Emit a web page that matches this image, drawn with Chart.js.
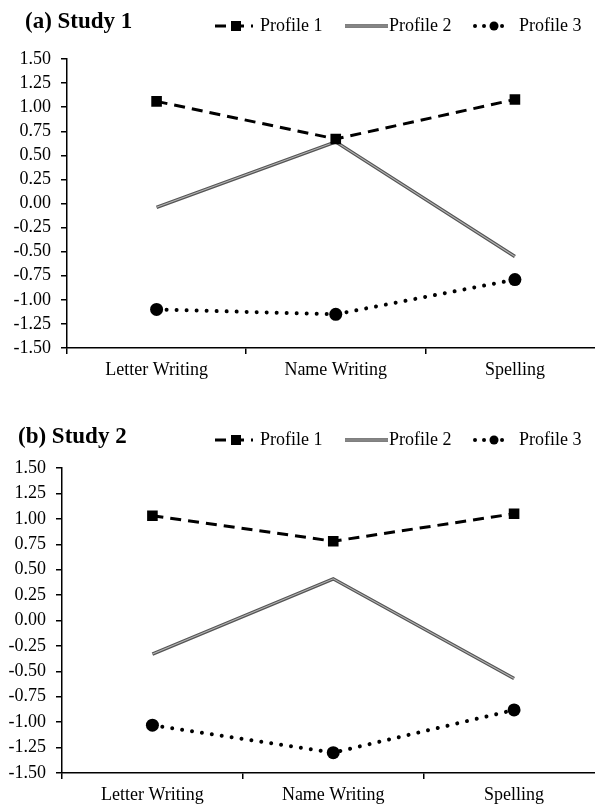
<!DOCTYPE html>
<html><head><meta charset="utf-8">
<script src="https://cdn.jsdelivr.net/npm/chart.js@4.4.1/dist/chart.umd.min.js"></script>
<style>
html,body{margin:0;padding:0;background:#fff;overflow:hidden;width:595px;height:806px;position:relative;}
canvas{position:absolute;left:0;}
#c1{top:0;} #c2{top:410px;}
</style></head><body>
<canvas id="c1" width="612" height="410"></canvas>
<canvas id="c2" width="612" height="396"></canvas>
<script>
const categories = ['Letter Writing', 'Name Writing', 'Spelling'];
const seriesLabels = ['Profile 1', 'Profile 2', 'Profile 3'];
const study1Profile1 = [1.06, 0.67, 1.08];
const study1Profile2 = [-0.04, 0.64, -0.55];
const study1Profile3 = [-1.10, -1.15, -0.79];
const study2Profile1 = [1.03, 0.78, 1.05];
const study2Profile2 = [-0.33, 0.41, -0.57];
const study2Profile3 = [-1.03, -1.30, -0.88];
const yMin = -1.5, yMax = 1.5, yStep = 0.25;
const titles = ['(a) Study 1', '(b) Study 2'];

const FONT = '"Liberation Serif", "Times New Roman", serif';

const innerLinePlugin = {
  id: 'innerLine',
  afterDatasetDraw(chart, args) {
    const ds = chart.data.datasets[args.index];
    if (!ds.innerColor) return;
    const pts = args.meta.data;
    const ctx = chart.ctx;
    ctx.save();
    ctx.strokeStyle = ds.innerColor;
    ctx.lineWidth = ds.innerWidth;
    ctx.lineJoin = 'miter';
    ctx.beginPath();
    pts.forEach((p, i) => { if (i === 0) ctx.moveTo(p.x, p.y); else ctx.lineTo(p.x, p.y); });
    ctx.stroke();
    ctx.restore();
  }
};

const headerPlugin = {
  id: 'panelHeader',
  afterDraw(chart, args, opts) {
    const ctx = chart.ctx;
    ctx.save();
    ctx.fillStyle = '#000';
    ctx.textBaseline = 'middle';
    ctx.textAlign = 'left';
    ctx.font = 'bold 23px ' + FONT;
    ctx.fillText(opts.title, opts.titleX, opts.titleY);
    ctx.font = '18px ' + FONT;
    const y = opts.legendY;
    chart.data.datasets.forEach((ds, i) => {
      const it = opts.items[i];
      ctx.save();
      ctx.strokeStyle = ds.borderColor;
      ctx.lineWidth = ds.borderWidth;
      ctx.setLineDash(it.dash || ds.borderDash || []);
      ctx.lineCap = ds.borderCapStyle || 'butt';
      ctx.beginPath(); ctx.moveTo(it.x0, y); ctx.lineTo(it.x1, y); ctx.stroke();
      if (ds.innerColor) {
        ctx.setLineDash([]);
        ctx.strokeStyle = ds.innerColor; ctx.lineWidth = ds.innerWidth;
        ctx.beginPath(); ctx.moveTo(it.x0, y); ctx.lineTo(it.x1, y); ctx.stroke();
      }
      ctx.restore();
      if (ds.pointRadius > 0) {
        ctx.fillStyle = ds.pointBackgroundColor;
        if (ds.pointStyle === 'rect') {
          ctx.fillRect(it.mx - it.r, y - it.r, it.r * 2, it.r * 2);
        } else {
          ctx.beginPath(); ctx.arc(it.mx, y, it.r, 0, Math.PI * 2); ctx.fill();
        }
      }
      ctx.fillStyle = '#000';
      ctx.fillText(ds.label, it.tx, y);
    });
    ctx.restore();
  }
};

function makeDatasets(p1, p2, p3) {
  return [
    { label: seriesLabels[0], data: p1, borderColor: '#000', borderWidth: 3, borderDash: [11, 7],
      pointStyle: 'rect', pointRadius: 7.5, pointBackgroundColor: '#000', pointBorderWidth: 0, tension: 0 },
    { label: seriesLabels[1], data: p2, borderColor: '#555', borderWidth: 3.5, innerColor: '#b5b5b5', innerWidth: 1.1,
      pointRadius: 0, tension: 0 },
    { label: seriesLabels[2], data: p3, borderColor: '#000', borderWidth: 4, borderDash: [0.01, 10], borderCapStyle: 'round',
      pointStyle: 'circle', pointRadius: 6.5, pointBackgroundColor: '#000', pointBorderWidth: 0, tension: 0 }
  ];
}

function makeChart(id, p1, p2, p3, cfg) {
  return new Chart(document.getElementById(id), {
    type: 'line',
    data: { labels: categories, datasets: makeDatasets(p1, p2, p3) },
    plugins: [innerLinePlugin, headerPlugin],
    options: {
      responsive: false,
      animation: false,
      devicePixelRatio: 1,
      layout: { padding: { top: cfg.top, right: cfg.right, left: 0, bottom: 0 } },
      plugins: {
        legend: { display: false },
        tooltip: { enabled: false },
        title: { display: false },
        panelHeader: {
          title: cfg.title, titleX: cfg.titleX, titleY: cfg.titleY, legendY: cfg.legendY,
          items: [
            { x0: 215, x1: 253, mx: 236, r: 5, tx: 260 },
            { x0: 345, x1: 388, tx: 389 },
            { x0: 475, x1: 505, mx: 494, r: 4.5, tx: 519, dash: [0.01, 9] }
          ]
        }
      },
      scales: {
        x: {
          type: 'category',
          offset: true,
          afterFit: (s) => { s.height = cfg.xHeight; },
          grid: { display: true, offset: true, drawOnChartArea: false, drawTicks: true, tickLength: 6, color: '#000', lineWidth: 1.5 },
          border: { display: true, color: '#000', width: 1.5 },
          ticks: { color: '#000', font: { family: FONT, size: 18 }, padding: 5, maxRotation: 0, autoSkip: false }
        },
        y: {
          min: yMin, max: yMax,
          afterFit: (s) => { s.width = cfg.yWidth; },
          grid: { display: true, drawOnChartArea: false, drawTicks: true, tickLength: 6, color: '#000', lineWidth: 1.5 },
          border: { display: true, color: '#000', width: 1.5 },
          ticks: { stepSize: yStep, autoSkip: false, color: '#000', font: { family: FONT, size: 18 }, padding: 10,
                   callback: (v) => Number(v).toFixed(2) }
        }
      }
    }
  });
}

makeChart('c1', study1Profile1, study1Profile2, study1Profile3,
  { title: titles[0], titleX: 25, titleY: 22, legendY: 26, top: 59, right: 5, yWidth: 67, xHeight: 62 });
makeChart('c2', study2Profile1, study2Profile2, study2Profile3,
  { title: titles[1], titleX: 18, titleY: 27, legendY: 30, top: 58, right: 4, yWidth: 62, xHeight: 33 });
</script>
</body></html>
